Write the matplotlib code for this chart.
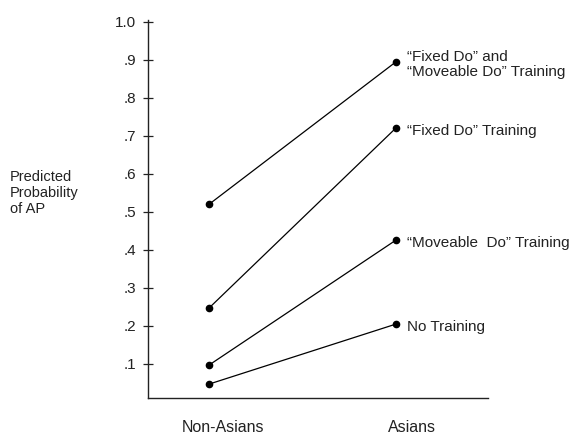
import matplotlib
matplotlib.use("Agg")
import matplotlib.pyplot as plt
import matplotlib.transforms as mtransforms

plt.rcParams['font.family'] = ['Liberation Sans', 'DejaVu Sans']

groups = ["Non-Asians", "Asians"]
conditions = ["\u201cFixed Do\u201d and\n\u201cMoveable Do\u201d Training",
              "\u201cFixed Do\u201d Training",
              "\u201cMoveable  Do\u201d Training",
              "No Training"]
non_asians = [0.52, 0.247, 0.097, 0.047]
asians = [0.895, 0.721, 0.426, 0.205]
yticks = [0.1, 0.2, 0.3, 0.4, 0.5, 0.6, 0.7, 0.8, 0.9, 1.0]
ytick_labels = [".1", ".2", ".3", ".4", ".5", ".6", ".7", ".8", ".9", "1.0"]

fig = plt.figure(figsize=(5.85, 4.34), dpi=100)
ax = fig.add_axes([148/585, 36/434, 340/585, 378/434])

xs = [0, 1]
for lab, a, b in zip(conditions, non_asians, asians):
    ax.plot(xs, [a, b], color='black', lw=0.9, marker='o', ms=4.5,
            mfc='black', mec='black', solid_capstyle='round')
    ax.annotate(lab, xy=(1, b), xytext=(8, -2), textcoords='offset points',
                ha='left', va='center', fontsize=11, color='#222222',
                linespacing=1.1)

ax.set_xlim(-0.326, 1.492)
ax.set_ylim(0.0105, 1.005)

ax.set_yticks(yticks)
ax.set_yticklabels(ytick_labels)
ax.tick_params(axis='y', direction='inout', length=7, width=0.9,
               labelsize=11, pad=5, colors='#222222')
ax.set_xticks(xs)
ax.set_xticklabels(groups)
ax.tick_params(axis='x', length=0, labelsize=11.5, pad=16, colors='#222222')
# labels sit a bit right of the points in the original
shifts = [14, 16]
for t, dx in zip(ax.get_xticklabels(), shifts):
    t.set_transform(t.get_transform() +
                    mtransforms.ScaledTranslation(dx/100, 0, fig.dpi_scale_trans))

for s in ['top', 'right']:
    ax.spines[s].set_visible(False)
for s in ['left', 'bottom']:
    ax.spines[s].set_linewidth(1.0)
    ax.spines[s].set_color('#222222')

fig.text(10/585, 1 - 193/434, "Predicted\nProbability\nof AP", ha='left',
         va='center', fontsize=10.5, color='#222222', linespacing=1.15)

fig.savefig("out.png", dpi=100, facecolor='white')
